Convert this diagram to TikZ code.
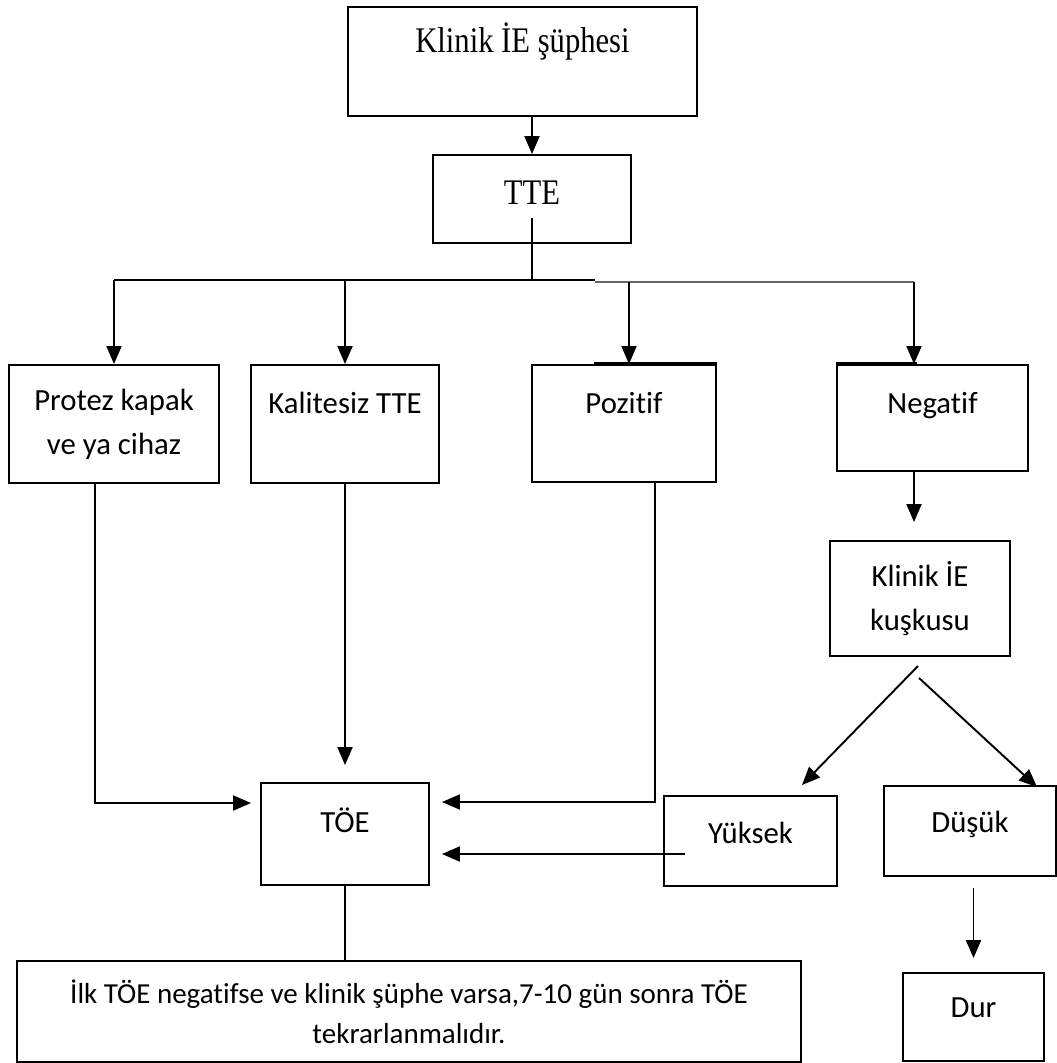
\documentclass[tikz,border=0pt]{standalone}
\usepackage{fontspec}
\setmainfont{Liberation Serif}[FakeStretch=0.85]
\newfontfamily\boxfont{Carlito}[Ligatures=NoCommon]
\usepackage{tikz}
\usetikzlibrary{positioning,arrows.meta}
\tikzset{
  box/.style={draw, line width=1.1pt, inner sep=0pt, text height=0.5cm,
              font=\boxfont\fontsize{17.5}{25}\selectfont},
  mbox/.style={draw, line width=1.1pt, inner sep=0pt, align=center,
              font=\boxfont\fontsize{17.5}{25}\selectfont},
  sbox/.style={draw, line width=1.1pt, inner sep=0pt, text height=0.5cm,
              font=\fontsize{20.5}{24}\selectfont},
  arr/.style={line width=1.1pt, -{Triangle[width=0.3cm,length=0.36cm]}},
  ln/.style={line width=1.1pt}
}

\begin{document}
\begin{tikzpicture}[x=0.02cm, y=-0.02cm]

             \useasboundingbox (0,0) rectangle (1057,1063);

             \node (klinik) [sbox, minimum width=6.98cm, minimum height=2.18cm, text depth=0.88cm] at (522.5,61.5) {Klinik İE şüphesi};
             \node (tte) [sbox, minimum width=3.96cm, minimum height=1.76cm, text depth=0.3cm] at (532,199) {TTE};

             \node (protez) [mbox, minimum width=4.2cm, minimum height=2.36cm] at (114,424) {Protez kapak\\ve ya cihaz};
             \node (kalitesiz) [box, minimum width=3.76cm, minimum height=2.36cm, text depth=0.94cm] at (345,424) {Kalitesiz TTE};
             \node (pozitif) [box, minimum width=3.68cm, minimum height=2.34cm, text depth=0.9cm] at (624,423.5) {Pozitif};
             \node (negatif) [box, minimum width=3.82cm, minimum height=2.12cm, text depth=0.7cm] at (932.5,418) {Negatif};

             \node (kuskusu) [mbox, minimum width=3.6cm, minimum height=2.3cm] at (920,598.5) {Klinik İE\\kuşkusu};

             \node (toe) [box, minimum width=3.36cm, minimum height=2.04cm, text depth=0.58cm] at (345,834) {TÖE};
             \node (yuksek) [box, minimum width=3.46cm, minimum height=1.8cm, text depth=0.42cm] at (750.5,841) {Yüksek};
             \node (dusuk) [box, minimum width=3.44cm, minimum height=1.8cm, text depth=0.46cm] at (970,831) {Düşük};

             \node (ilk) [mbox, minimum width=15.68cm, minimum height=2.02cm, font=\boxfont\fontsize{16.5}{23}\selectfont] at (409,1011.5) {İlk TÖE negatifse ve klinik şüphe varsa,7-10 gün sonra TÖE\\tekrarlanmalıdır.};
             \node (dur) [box, minimum width=2.82cm, minimum height=1.76cm, text depth=0.5cm] at (973.5,1017) {Dur};

             \coordinate (bus) at (532,280);
             \coordinate (busM) at (595,280);
             \coordinate (busN) at (595,282);
             \coordinate (busR) at (914,282);
             \coordinate (pz) at (655,802);
             \coordinate (pr) at (95,803);
             \coordinate (yk) at (685,854);
             \coordinate (kL) at (918,666);
             \coordinate (kR) at (919,678);
             \coordinate (yTip) at (802,785);
             \coordinate (dTip) at (1037,787);

             \draw [arr] (tte.north |- klinik.south) to (tte.north);
             \draw [ln] ([yshift=-0.38cm]tte.center) to (bus);
             \draw [ln] (bus -| protez.north) to (busM);
             \draw [ln, black!60] (busN) to (busR);

             \draw [arr] (bus -| protez.north) to (protez.north);
             \draw [arr] (bus -| kalitesiz.north) to (kalitesiz.north);
             \draw [arr] (629,282) to (629,282 |- pozitif.north);
             \draw [arr] (busR) to (busR |- negatif.north);

             \draw [line width=2.4pt] ([xshift=1.26cm]pozitif.north west) to (pozitif.north east);
             \draw [line width=2.4pt] (negatif.north west) to ([xshift=1.62cm]negatif.north west);

             \draw [arr, shorten >=0.36cm] (busR |- negatif.south) to (busR |- kuskusu.north);
             \draw [arr] (kL) to (yTip);
             \draw [arr] (kR) to (dTip);

             \draw [arr, shorten >=0.18cm] (protez.south -| pr) -- (pr) -- (toe.west |- pr);
             \draw [arr, shorten >=0.34cm] (kalitesiz.south) to (toe.north);
             \draw [arr, shorten >=0.24cm] (pozitif.south -| pz) -- (pz) -- (toe.east |- pz);
             \draw [arr, shorten >=0.24cm] (yk) to (toe.east |- yk);

             \draw [ln] (toe.south) to (toe.south |- ilk.north);
             \draw [arr, shorten <=0.22cm, shorten >=0.28cm] (dur.north |- dusuk.south) to (dur.north);

          \end{tikzpicture}
\end{document}
